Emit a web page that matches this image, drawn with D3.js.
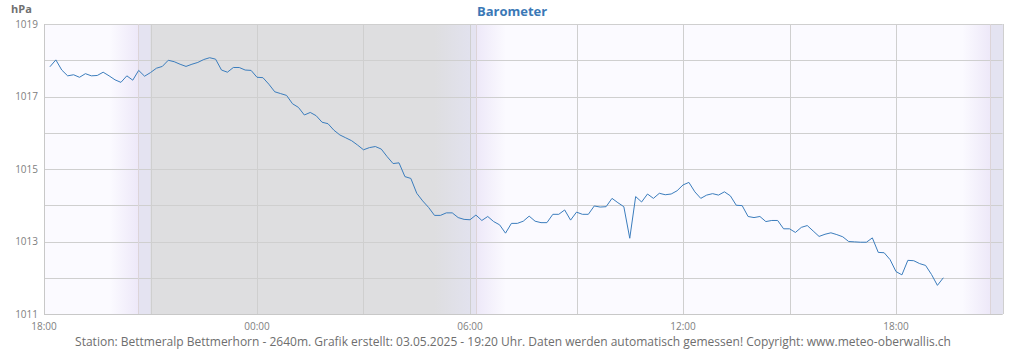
<!DOCTYPE html>
<html>
<head>
<meta charset="utf-8">
<script src="https://cdn.jsdelivr.net/npm/d3@7"></script>
<style>
  body { margin: 0; background: #fff; }
  svg text { font-family: "Open Sans", "Noto Sans", sans-serif; }
</style>
</head>
<body>
<div id="chart"></div>
<script>
// readings every 10 minutes, first one at 02.05.2025 18:10
var startTime = Date.UTC(2025, 4, 2, 18, 10);
var stepMinutes = 10;
var pressure = [
  1017.82, 1018.01, 1017.73, 1017.57, 1017.60, 1017.53, 1017.63, 1017.57, 1017.58, 1017.67,
  1017.57, 1017.46, 1017.39, 1017.57, 1017.45, 1017.72, 1017.56, 1017.66, 1017.78, 1017.83,
  1018.00, 1017.96, 1017.89, 1017.83, 1017.89, 1017.94, 1018.02, 1018.07, 1018.03, 1017.73,
  1017.67, 1017.80, 1017.80, 1017.73, 1017.72, 1017.53, 1017.52, 1017.34, 1017.13, 1017.08,
  1017.03, 1016.80, 1016.70, 1016.49, 1016.56, 1016.47, 1016.29, 1016.25, 1016.07, 1015.94,
  1015.86, 1015.78, 1015.66, 1015.53, 1015.59, 1015.62, 1015.55, 1015.34, 1015.15, 1015.17,
  1014.79, 1014.74, 1014.33, 1014.12, 1013.94, 1013.72, 1013.72, 1013.79, 1013.79, 1013.66,
  1013.61, 1013.60, 1013.73, 1013.58, 1013.69, 1013.55, 1013.46, 1013.23, 1013.50, 1013.50,
  1013.56, 1013.70, 1013.56, 1013.52, 1013.52, 1013.75, 1013.75, 1013.87, 1013.59, 1013.81,
  1013.75, 1013.75, 1013.98, 1013.95, 1013.96, 1014.19, 1014.07, 1013.96, 1013.09, 1014.24,
  1014.09, 1014.31, 1014.19, 1014.33, 1014.29, 1014.31, 1014.40, 1014.56, 1014.63, 1014.37,
  1014.19, 1014.28, 1014.32, 1014.28, 1014.37, 1014.26, 1014.00, 1013.99, 1013.69, 1013.66,
  1013.69, 1013.55, 1013.58, 1013.58, 1013.35, 1013.35, 1013.25, 1013.39, 1013.44, 1013.29,
  1013.14, 1013.20, 1013.24, 1013.19, 1013.13, 1013.00, 1012.99, 1012.98, 1012.98, 1013.10,
  1012.70, 1012.69, 1012.50, 1012.17, 1012.08, 1012.48, 1012.47, 1012.39, 1012.34, 1012.09,
  1011.79, 1012.00
];
var yTicks = [1011, 1012, 1013, 1014, 1015, 1016, 1017, 1018, 1019];
var yLabels = [1011, 1013, 1015, 1017, 1019];
var xLabelHours = ["18:00", "00:00", "06:00", "12:00", "18:00"];
// sunset / sunrise marks (UTC used as local clock)
var sunTimes = [
  Date.UTC(2025, 4, 2, 20, 39),
  Date.UTC(2025, 4, 3, 6, 10),
  Date.UTC(2025, 4, 3, 20, 39)
];
var footer = "Station: Bettmeralp Bettmerhorn - 2640m. Grafik erstellt: 03.05.2025 - 19:20 Uhr. Daten werden automatisch gemessen! Copyright: www.meteo-oberwallis.ch";

var width = 1024, height = 350;
var margin = { top: 24, right: 21.5, bottom: 36, left: 44 };

var tStart = new Date(Date.UTC(2025, 4, 2, 18, 0));
var tEnd = new Date(Date.UTC(2025, 4, 3, 21, 0));

var data = pressure.map(function (v, i) {
  return { date: new Date(startTime + i * stepMinutes * 60000), value: v };
});

var x = d3.scaleUtc().domain([tStart, tEnd]).range([margin.left, width - margin.right]);
var y = d3.scaleLinear().domain([1011, 1019]).range([height - margin.bottom, margin.top]);

var svg = d3.select("#chart").append("svg")
  .attr("width", width)
  .attr("height", height);

var defs = svg.append("defs");

function T(d, h, m) { return new Date(Date.UTC(2025, 4, d, h, m)); }

// background shading: day, dusk, night, dawn
var day = "#fbfaff", dusk = "#ede8f8", band = "#e4e3f1", night = "#dedee0", dawnGray = "#e2e2ee";
var shades = [
  { from: T(2, 18, 0), to: T(2, 19, 52), c0: day, c1: day },
  { from: T(2, 19, 52), to: T(2, 20, 39), c0: day, c1: dusk },
  { from: T(2, 20, 39), to: T(2, 21, 0), c0: band, c1: band },
  { from: T(2, 21, 0), to: T(3, 5, 0), c0: night, c1: night },
  { from: T(3, 5, 0), to: T(3, 6, 0), c0: night, c1: dawnGray },
  { from: T(3, 6, 0), to: T(3, 6, 10), c0: band, c1: band },
  { from: T(3, 6, 10), to: T(3, 7, 0), c0: dusk, c1: day },
  { from: T(3, 7, 0), to: T(3, 19, 52), c0: day, c1: day },
  { from: T(3, 19, 52), to: T(3, 20, 39), c0: day, c1: dusk },
  { from: T(3, 20, 39), to: T(3, 21, 0), c0: band, c1: band }
];

shades.forEach(function (s, i) {
  var g = defs.append("linearGradient").attr("id", "sh" + i)
    .attr("x1", "0%").attr("x2", "100%").attr("y1", "0%").attr("y2", "0%");
  g.append("stop").attr("offset", "0%").attr("stop-color", s.c0);
  g.append("stop").attr("offset", "100%").attr("stop-color", s.c1);
});

svg.append("g").selectAll("rect")
  .data(shades)
  .enter().append("rect")
  .attr("x", function (d) { return x(d.from); })
  .attr("y", margin.top)
  .attr("width", function (d) { return x(d.to) - x(d.from) + 0.5; })
  .attr("height", y(1011) - y(1019))
  .attr("fill", function (d, i) { return "url(#sh" + i + ")"; });

// horizontal grid
svg.append("g").selectAll("line")
  .data(yTicks)
  .enter().append("line")
  .attr("x1", margin.left).attr("x2", width - margin.right)
  .attr("y1", function (d) { return Math.round(y(d)) + 0.5; })
  .attr("y2", function (d) { return Math.round(y(d)) + 0.5; })
  .attr("stroke", "#cfcfcf").attr("stroke-width", 1);

// vertical grid every 3 hours
var vTicks = d3.utcHour.every(3).range(tStart, new Date(+tEnd + 1));
svg.append("g").selectAll("line")
  .data(vTicks)
  .enter().append("line")
  .attr("x1", function (d) { return Math.round(x(d)) + 0.5; })
  .attr("x2", function (d) { return Math.round(x(d)) + 0.5; })
  .attr("y1", margin.top).attr("y2", y(1011))
  .attr("stroke", "#cfcfcf").attr("stroke-width", 1);

// sunrise / sunset lines
svg.append("g").selectAll("line")
  .data(sunTimes)
  .enter().append("line")
  .attr("x1", function (d) { return Math.round(x(d)) + 0.5; })
  .attr("x2", function (d) { return Math.round(x(d)) + 0.5; })
  .attr("y1", margin.top).attr("y2", y(1011))
  .attr("stroke", "#dcd4d8").attr("stroke-width", 1);

// left and bottom border
svg.append("line")
  .attr("x1", margin.left + 0.5).attr("x2", margin.left + 0.5)
  .attr("y1", margin.top).attr("y2", y(1011))
  .attr("stroke", "#c8c8c8");
svg.append("line")
  .attr("x1", margin.left).attr("x2", width - margin.right)
  .attr("y1", Math.round(y(1011)) + 0.5).attr("y2", Math.round(y(1011)) + 0.5)
  .attr("stroke", "#c8c8c8");

// y axis labels
svg.append("g").selectAll("text")
  .data(yLabels)
  .enter().append("text")
  .attr("x", 38)
  .attr("y", function (d) { return y(d); })
  .attr("dy", "0.35em")
  .attr("text-anchor", "end")
  .attr("font-size", 10)
  .attr("fill", "#808080")
  .text(function (d) { return d; });

// x axis labels every 6 hours
var xLabelTicks = d3.utcHour.every(6).range(tStart, tEnd);
svg.append("g").selectAll("text")
  .data(xLabelTicks)
  .enter().append("text")
  .attr("x", function (d) { return x(d); })
  .attr("y", 330)
  .attr("text-anchor", "middle")
  .attr("font-size", 10)
  .attr("fill", "#808080")
  .text(function (d, i) { return xLabelHours[i]; });

// pressure line
var line = d3.line()
  .x(function (d) { return x(d.date); })
  .y(function (d) { return y(d.value); });

svg.append("path")
  .datum(data)
  .attr("d", line)
  .attr("fill", "none")
  .attr("stroke", "#3b7dbd")
  .attr("stroke-width", 1);

// titles
svg.append("text")
  .attr("x", 512).attr("y", 16)
  .attr("text-anchor", "middle")
  .attr("font-size", 13).attr("font-weight", "bold")
  .attr("fill", "#3a78b6")
  .text("Barometer");

svg.append("text")
  .attr("x", 11).attr("y", 13)
  .attr("font-size", 11).attr("font-weight", "bold")
  .attr("fill", "#707070")
  .text("hPa");

svg.append("text")
  .attr("x", 513).attr("y", 345.5)
  .attr("text-anchor", "middle")
  .attr("font-size", 12)
  .attr("fill", "#6e6e6e")
  .text(footer);
</script>
</body>
</html>
